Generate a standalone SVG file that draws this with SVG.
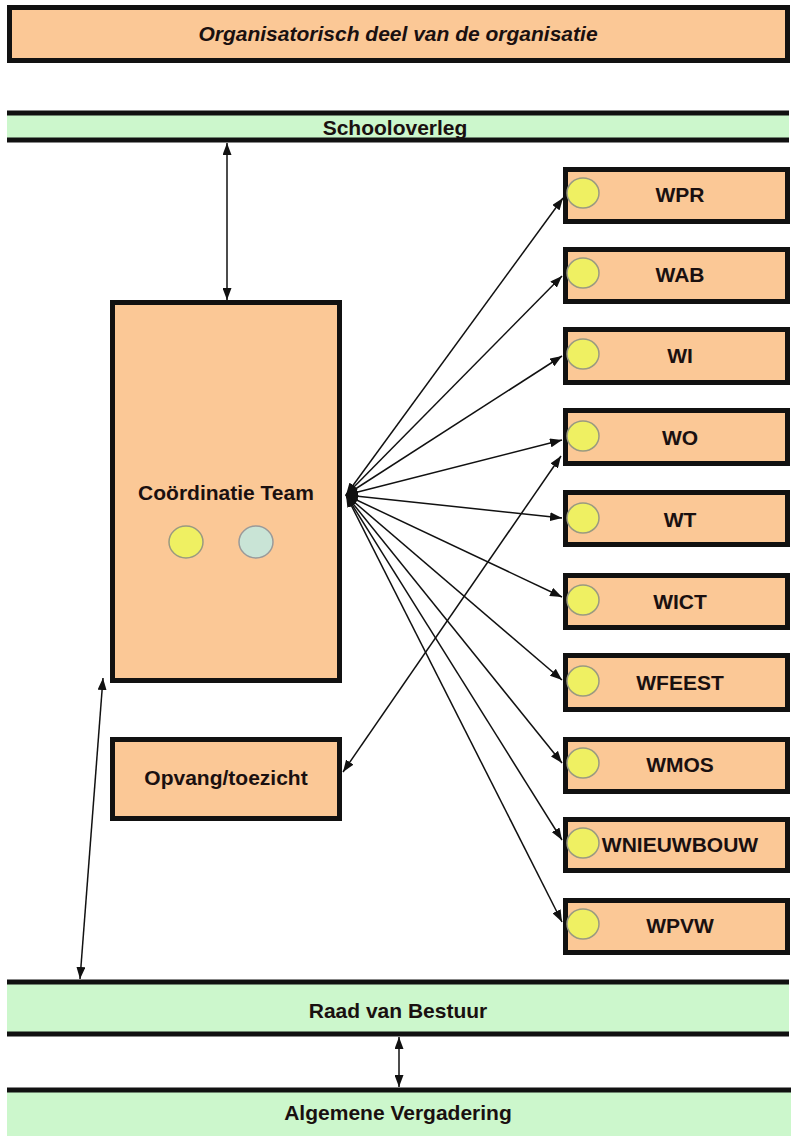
<svg xmlns="http://www.w3.org/2000/svg" width="791" height="1136" viewBox="0 0 791 1136">
<style>
.box{fill:#FBC896;stroke:#111;stroke-width:5}
.bar{fill:#CCF7CC}
.line{stroke:#111;stroke-width:5}
.t{font-family:"Liberation Sans",Arial,sans-serif;font-weight:bold;font-size:21px;fill:#1a1010;text-anchor:middle}
.ti{font-style:italic}
.dot{fill:#EFF062;stroke:#9a9a80;stroke-width:1.5}
.dot2{fill:#C9E4D6;stroke:#9a9a9a;stroke-width:1.5}
.c{stroke:#111;stroke-width:1.5;fill:none;marker-start:url(#ah);marker-end:url(#ah)}
</style>
<defs>
<marker id="ah" viewBox="0 0 12 9" refX="12" refY="4.5" markerWidth="12" markerHeight="9" orient="auto-start-reverse" markerUnits="userSpaceOnUse"><path d="M0,0 L12,4.5 L0,9 z" fill="#111"/></marker>
</defs>
<rect width="791" height="1136" fill="#fff"/>

<g id="title">
<rect class="box" x="9.5" y="7.5" width="778" height="53"/>
<text class="t ti" x="398" y="41">Organisatorisch deel van de organisatie</text>
</g>

<g id="schooloverleg">
<rect class="bar" x="7" y="113" width="782" height="27"/>
<line class="line" x1="7" y1="113" x2="789" y2="113"/>
<line class="line" x1="7" y1="140" x2="789" y2="140"/>
<text class="t" x="395" y="135">Schooloverleg</text>
</g>

<g id="coordinatieteam">
<rect class="box" x="112.5" y="302.5" width="227" height="378"/>
<text class="t" x="226" y="500">Coördinatie Team</text>
<ellipse class="dot" cx="186" cy="542" rx="17" ry="16"/>
<ellipse class="dot2" cx="256" cy="542" rx="17" ry="16"/>
</g>

<g id="opvang">
<rect class="box" x="112.5" y="739.5" width="227" height="79"/>
<text class="t" x="226" y="785">Opvang/toezicht</text>
</g>

<g id="WPR"><rect class="box" x="565.5" y="169.5" width="222" height="52"/><ellipse class="dot" cx="583" cy="193" rx="16" ry="15"/><text class="t" x="680" y="202">WPR</text></g>
<g id="WAB"><rect class="box" x="565.5" y="249.5" width="222" height="52"/><ellipse class="dot" cx="583" cy="273" rx="16" ry="15"/><text class="t" x="680" y="282">WAB</text></g>
<g id="WI"><rect class="box" x="565.5" y="329.5" width="222" height="53"/><ellipse class="dot" cx="583" cy="354" rx="16" ry="15"/><text class="t" x="680" y="363">WI</text></g>
<g id="WO"><rect class="box" x="565.5" y="410.5" width="222" height="53"/><ellipse class="dot" cx="583" cy="436" rx="16" ry="15"/><text class="t" x="680" y="445">WO</text></g>
<g id="WT"><rect class="box" x="565.5" y="492.5" width="222" height="52"/><ellipse class="dot" cx="583" cy="518" rx="16" ry="15"/><text class="t" x="680" y="527">WT</text></g>
<g id="WICT"><rect class="box" x="565.5" y="575.5" width="222" height="52"/><ellipse class="dot" cx="583" cy="600" rx="16" ry="15"/><text class="t" x="680" y="609">WICT</text></g>
<g id="WFEEST"><rect class="box" x="565.5" y="655.5" width="222" height="54"/><ellipse class="dot" cx="583" cy="681" rx="16" ry="15"/><text class="t" x="680" y="690">WFEEST</text></g>
<g id="WMOS"><rect class="box" x="565.5" y="739.5" width="222" height="52"/><ellipse class="dot" cx="583" cy="763" rx="16" ry="15"/><text class="t" x="680" y="772">WMOS</text></g>
<g id="WNIEUWBOUW"><rect class="box" x="565.5" y="819.5" width="222" height="51"/><ellipse class="dot" cx="583" cy="843" rx="16" ry="15"/><text class="t" x="680" y="852">WNIEUWBOUW</text></g>
<g id="WPVW"><rect class="box" x="565.5" y="900.5" width="222" height="52"/><ellipse class="dot" cx="583" cy="924" rx="16" ry="15"/><text class="t" x="680" y="933">WPVW</text></g>

<g id="raad">
<rect class="bar" x="7" y="982" width="782" height="52"/>
<line class="line" x1="7" y1="982" x2="789" y2="982"/>
<line class="line" x1="7" y1="1034" x2="789" y2="1034"/>
<text class="t" x="398" y="1018">Raad van Bestuur</text>
</g>

<g id="algemene">
<rect class="bar" x="7" y="1090" width="784" height="46"/>
<line class="line" x1="7" y1="1090" x2="791" y2="1090"/>
<text class="t" x="398" y="1120">Algemene Vergadering</text>
</g>

<g id="connectors">
<line class="c" x1="227" y1="143" x2="227" y2="300"/>
<line class="c" x1="103" y1="678" x2="80" y2="979"/>
<line class="c" x1="399" y1="1037" x2="399" y2="1087"/>
<line class="c" x1="343" y1="772" x2="561" y2="456"/>
<line class="c" x1="346" y1="495" x2="563" y2="198"/>
<line class="c" x1="346" y1="495" x2="562" y2="276"/>
<line class="c" x1="346" y1="495" x2="562" y2="356"/>
<line class="c" x1="346" y1="495" x2="562" y2="440"/>
<line class="c" x1="346" y1="495" x2="562" y2="518"/>
<line class="c" x1="346" y1="495" x2="562" y2="597"/>
<line class="c" x1="346" y1="495" x2="562" y2="680"/>
<line class="c" x1="346" y1="495" x2="562" y2="763"/>
<line class="c" x1="346" y1="495" x2="562" y2="840"/>
<line class="c" x1="346" y1="495" x2="562" y2="922"/>
</g>
</svg>
